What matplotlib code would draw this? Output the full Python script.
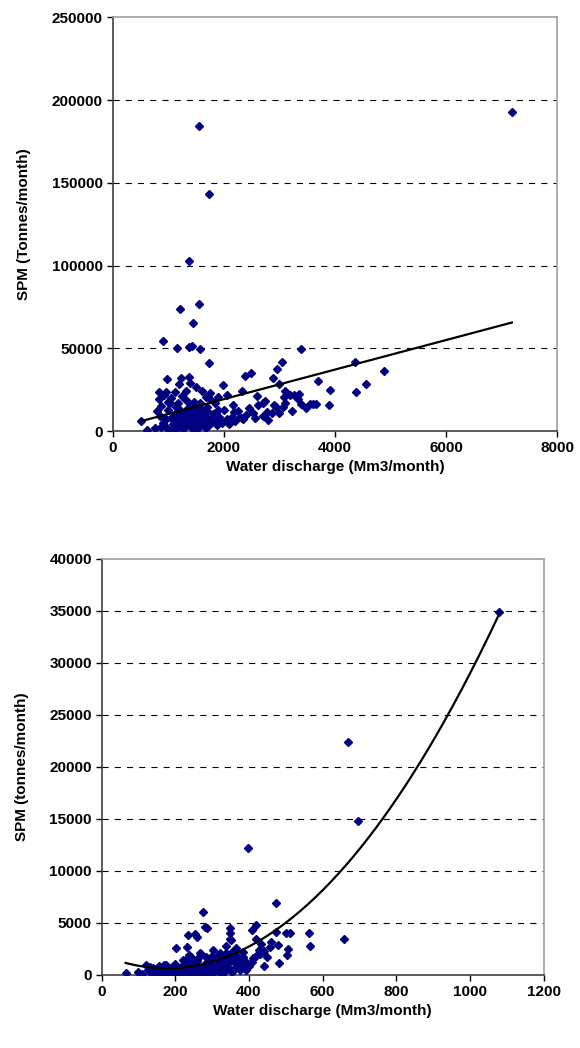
#!/usr/bin/env python3
# -*- coding: utf-8 -*-
"""
SPM vs water discharge - two scatter panels with trend lines.
Saves out.png (580x1048).
"""
import matplotlib
matplotlib.use("Agg")
import matplotlib.pyplot as plt
import numpy as np

plt.rcParams["font.family"] = ["Liberation Sans", "DejaVu Sans"]
plt.rcParams["font.weight"] = "bold"

# ---- top panel: monthly discharge (Mm3) vs SPM (tonnes) ----
top_discharge = [
    7180, 1550, 1727, 1367, 1205, 1559, 1444, 899, 1163, 1367,
    1427, 1565, 3392, 1727, 4358, 3045, 4874, 2962, 2482, 2380,
    2890, 983, 1235, 1379, 3700, 1985, 2986, 4550, 3915, 4376,
    3100, 2332, 3350, 3262, 3197, 3082, 3334, 3394, 3544, 3604,
    3652, 3891, 516, 624, 828, 959, 930, 828, 990, 1254,
    1295, 1175, 1025, 1373, 1685, 1745, 1835, 1578, 1445, 3100,
    3070, 2907, 2938, 2866, 2770, 2698, 2620, 2530, 2458, 2350,
    2320, 2170, 2183, 2142, 2290, 800, 850, 900, 950, 1000,
    1050, 1080, 1100, 1120, 1150, 1180, 1200, 1220, 1250, 1270,
    1300, 1320, 1340, 1360, 1380, 1400, 1420, 1450, 1470, 1490,
    1510, 1530, 1560, 1580, 1600, 1620, 1650, 1680, 1700, 1720,
    1760, 1800, 1840, 1880, 1920, 1960, 2000, 2050, 2100, 2200,
    880, 760, 1010, 1140, 1290, 1430, 1540, 1660, 1790, 1900,
    2250, 2400, 2560, 2700, 2800, 1060, 1130, 1330, 1500, 1610,
    1760, 1900, 2050, 2600, 2750, 3000, 3230, 3480, 1190, 1390,
    960, 870, 1240, 1460, 1700,
]
top_spm = [
    192600, 184200, 143000, 102800, 73500, 76500, 65400, 54500, 49900, 50500,
    51500, 49800, 49300, 41000, 41500, 41500, 36400, 37400, 35000, 33200,
    32200, 31200, 32200, 32400, 30200, 27600, 28400, 28400, 24600, 23700,
    24300, 24000, 22300, 21500, 21500, 20300, 19100, 16100, 16100, 16100,
    16100, 15700, 6000, 600, 23700, 23700, 21700, 19100, 17700, 21300,
    19100, 16700, 16700, 16700, 20700, 19100, 16700, 16700, 14700, 16700,
    14300, 15700, 14300, 10700, 11700, 16700, 15700, 10700, 13700, 7000,
    8000, 15700, 11700, 8600, 8600, 12000, 9000, 5000, 3000, 12500,
    8000, 4000, 1500, 10500, 6500, 2500, 13500, 9000, 5000, 1200,
    11500, 7500, 3500, 14000, 9500, 6000, 2000, 12000, 8000, 4500,
    1000, 10500, 6500, 3000, 13000, 9000, 5500, 2000, 12000, 7000,
    4000, 10000, 6000, 3500, 8500, 5000, 12500, 7500, 4500, 6000,
    15000, 2000, 500, 14500, 4000, 10000, 14000, 11000, 8000, 13000,
    12000, 9500, 8000, 9000, 6500, 20000, 23500, 24500, 26500, 24000,
    23000, 20500, 22000, 21000, 18000, 11000, 12000, 14000, 28500, 29000,
    7000, 2500, 11000, 17500, 14500,
]
# linear trend: slope, intercept
top_trend = [8.94, 1390]

# ---- bottom panel ----
bot_discharge = [
    1080, 670, 697, 396, 276, 473, 280, 287, 348, 418,
    408, 234, 254, 258, 349, 349, 500, 511, 564, 566,
    658, 473, 460, 458, 480, 505, 502, 481, 433, 426,
    419, 409, 440, 393, 337, 318, 302, 201, 232, 270,
    350, 338, 353, 362, 371, 317, 267, 238, 242, 232,
    65, 99, 120, 110, 125, 135, 140, 145, 150, 155,
    160, 165, 170, 175, 180, 185, 190, 195, 200, 205,
    210, 215, 220, 225, 230, 235, 240, 245, 250, 255,
    260, 265, 270, 275, 280, 285, 290, 295, 300, 305,
    310, 315, 320, 325, 330, 335, 340, 345, 350, 355,
    360, 365, 370, 375, 380, 385, 390, 400, 410, 155,
    175, 195, 215, 235, 255, 275, 295, 315, 335, 190,
    210, 230, 250, 270, 290, 310, 330, 220, 245, 262,
    282, 300, 322, 345, 180, 200, 240, 130, 168, 365,
    385, 430, 450, 420, 440,
]
bot_spm = [
    34900, 22430, 14840, 12180, 6060, 6920, 4650, 4550, 4520, 4780,
    4300, 3880, 3940, 3690, 4010, 3460, 4070, 4070, 4010, 2820,
    3490, 4160, 3200, 2690, 2880, 2530, 1890, 1150, 2950, 2400,
    1830, 1280, 900, 510, 2820, 1950, 2430, 2630, 2670, 2020,
    3370, 2080, 2240, 1920, 1760, 1920, 2080, 1920, 1700, 1510,
    160, 320, 960, 100, 450, 200, 700, 50, 400, 900,
    150, 600, 300, 1000, 100, 500, 800, 250, 1100, 50,
    600, 350, 900, 150, 1200, 450, 700, 100, 1000, 300,
    1300, 600, 150, 900, 450, 1200, 50, 700, 1500, 300,
    1000, 600, 150, 1300, 800, 400, 1100, 700, 1500, 300,
    1200, 800, 1400, 500, 1000, 1700, 1300, 900, 1600, 550,
    650, 450, 800, 950, 700, 500, 1100, 1300, 1600, 50,
    200, 300, 200, 700, 400, 500, 200, 1400, 1500, 1600,
    1700, 1800, 2100, 1900, 700, 600, 1300, 800, 1000, 2600,
    2200, 2000, 1700, 3500, 2300,
]
# 2nd order polynomial trend
bot_trend = [0.04174, -14.69, 1933]

NAVY = "#000080"


def style_axes(ax, xmax, xstep, ymax, ystep):
    ax.set_xlim(0, xmax)
    ax.set_ylim(0, ymax)
    ax.set_xticks(np.arange(0, xmax + 1, xstep))
    ax.set_yticks(np.arange(0, ymax + 1, ystep))
    for y in np.arange(ystep, ymax, ystep):
        ax.axhline(y, color="black", lw=0.8, dashes=(5.5, 5.5), zorder=0)
    ax.tick_params(direction="out", length=4, width=1, colors="black",
                   labelsize=11, pad=3)
    for lab in ax.get_xticklabels() + ax.get_yticklabels():
        lab.set_fontweight("bold")
    ax.spines["left"].set_color("#404040")
    ax.spines["bottom"].set_color("#404040")
    ax.spines["top"].set_color("#a0a0a0")
    ax.spines["right"].set_color("#a0a0a0")
    for s in ax.spines.values():
        s.set_linewidth(1.2)


fig = plt.figure(figsize=(5.8, 10.48), dpi=100)

ax1 = fig.add_axes([0.194, 0.5887, 0.7672, 0.3947])
ax1.plot(top_discharge, top_spm, "D", color=NAVY, ms=3.8, mec=NAVY, zorder=3)
xt = np.linspace(min(top_discharge), max(top_discharge), 50)
ax1.plot(xt, np.polyval(top_trend, xt), color="black", lw=1.6, zorder=4)
style_axes(ax1, 8000, 2000, 250000, 50000)
ax1.set_xlabel("Water discharge (Mm3/month)", fontsize=11, fontweight="bold", labelpad=4)
ax1.set_ylabel("SPM (Tonnes/month)", fontsize=11, fontweight="bold", labelpad=15)

ax2 = fig.add_axes([0.1753, 0.0697, 0.762, 0.397])
ax2.plot(bot_discharge, bot_spm, "D", color=NAVY, ms=3.8, mec=NAVY, zorder=3)
xb = np.linspace(min(bot_discharge), max(bot_discharge), 200)
ax2.plot(xb, np.polyval(bot_trend, xb), color="black", lw=1.6, zorder=4)
style_axes(ax2, 1200, 200, 40000, 5000)
ax2.set_xlabel("Water discharge (Mm3/month)", fontsize=11, fontweight="bold", labelpad=4)
ax2.set_ylabel("SPM (tonnes/month)", fontsize=11, fontweight="bold", labelpad=15)

fig.savefig("out.png", dpi=100)
